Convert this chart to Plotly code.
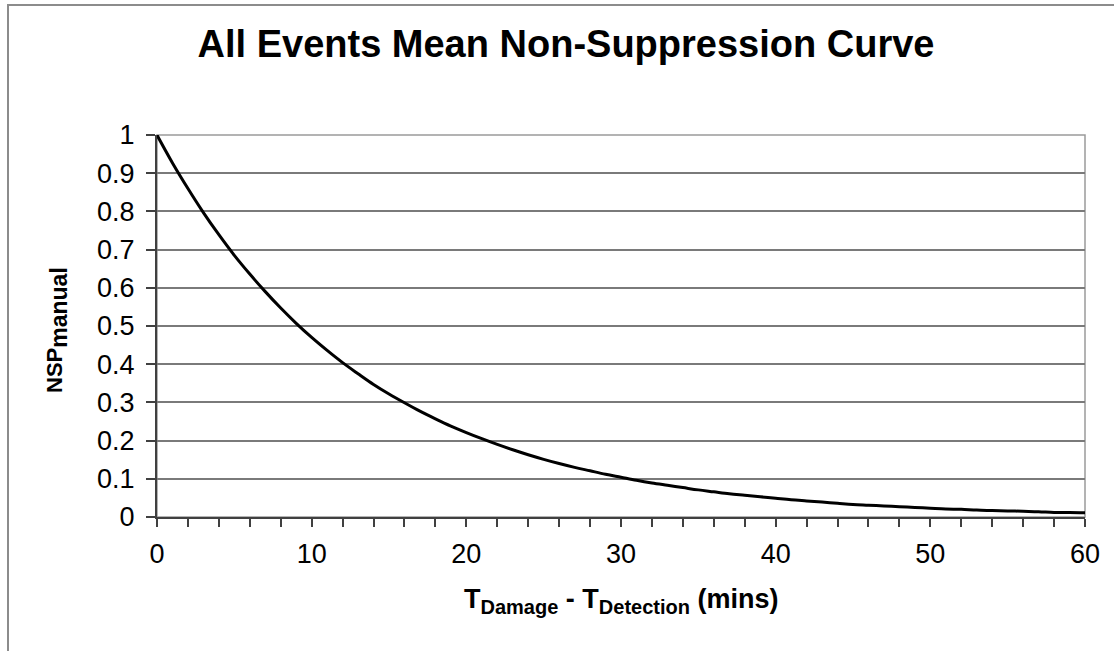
import plotly.graph_objects as go

# Data
minutes = list(range(0, 61))
nsp_manual = [
    1.000, 0.927, 0.860, 0.797, 0.739, 0.685, 0.636, 0.590, 0.547, 0.507,
    0.470, 0.436, 0.404, 0.375, 0.347, 0.322, 0.299, 0.277, 0.257, 0.238,
    0.221, 0.205, 0.190, 0.176, 0.163, 0.151, 0.140, 0.130, 0.121, 0.112,
    0.104, 0.096, 0.089, 0.083, 0.077, 0.071, 0.066, 0.061, 0.057, 0.053,
    0.049, 0.045, 0.042, 0.039, 0.036, 0.033, 0.031, 0.029, 0.027, 0.025,
    0.023, 0.021, 0.020, 0.018, 0.017, 0.016, 0.015, 0.014, 0.012, 0.012,
    0.011,
]
x_tickvals = list(range(0, 61, 2))
x_ticktext = [str(v) if v % 10 == 0 else "" for v in x_tickvals]
y_tickvals = [0, 0.1, 0.2, 0.3, 0.4, 0.5, 0.6, 0.7, 0.8, 0.9, 1]
y_ticktext = ["0", "0.1", "0.2", "0.3", "0.4", "0.5", "0.6", "0.7", "0.8", "0.9", "1"]

W, H = 1114, 651
L, R, T, B = 157, 1085, 135, 517
pw, ph = R - L, B - T

def px(xp):
    return (xp - L) / pw

def py(yp):
    return (B - yp) / ph

font = "Liberation Sans, Arial, sans-serif"

fig = go.Figure()
fig.add_trace(go.Scatter(
    x=minutes, y=nsp_manual, mode="lines",
    line=dict(color="black", width=3, shape="spline"),
    showlegend=False, hoverinfo="skip",
))

fig.update_layout(
    width=W, height=H,
    margin=dict(l=L, r=W - R, t=T, b=H - B, pad=0),
    paper_bgcolor="white", plot_bgcolor="white",
    font=dict(family=font, color="black"),
    title=dict(text="<b>All Events Mean Non-Suppression Curve</b>",
               font=dict(size=38, family=font, color="black"),
               x=566 / W, xref="container", xanchor="center",
               y=1 - 44 / H, yref="container", yanchor="middle"),
    xaxis=dict(range=[0, 60], tickvals=x_tickvals, ticktext=x_ticktext,
               ticks="outside", ticklen=8, tickcolor="#404040", tickwidth=1.5,
               showline=True, linecolor="#404040", linewidth=2,
               showgrid=False, zeroline=False, ticklabelstandoff=4,
               tickfont=dict(size=27, family=font, color="black")),
    yaxis=dict(range=[0, 1], tickvals=y_tickvals, ticktext=y_ticktext,
               ticks="outside", ticklen=9, tickcolor="#404040", tickwidth=1.5,
               showline=True, linecolor="#404040", linewidth=2,
               showgrid=True, gridcolor="#7a7a7a", gridwidth=1.6, zeroline=False,
               ticklabelstandoff=6,
               tickfont=dict(size=27, family=font, color="black")),
    shapes=[
        # plot area frame (top/right gray)
        dict(type="rect", xref="paper", yref="paper", x0=0, x1=1, y0=0, y1=1,
             line=dict(color="#9a9a9a", width=1.5), layer="below"),
        # outer chart border
        dict(type="rect", xref="paper", yref="paper",
             x0=px(8), x1=px(1130), y0=py(660), y1=py(5),
             line=dict(color="#8c8c8c", width=2), layer="below"),
    ],
    annotations=[
        dict(text='<b>NSP<sub><span style="font-size:23px">manual</span></sub></b>',
             xref="paper", yref="paper",
             x=px(57), y=py(330), xanchor="center", yanchor="middle",
             textangle=-90, showarrow=False,
             font=dict(size=22, family=font, color="black")),
        dict(text='<b>T<sub><span style="font-size:20px">Damage</span></sub> - '
                  'T<sub><span style="font-size:20px">Detection</span></sub> (mins)</b>',
             xref="paper", yref="paper",
             x=px(621), y=py(601), xanchor="center", yanchor="middle",
             showarrow=False,
             font=dict(size=27, family=font, color="black")),
    ],
)

fig.write_html("out.html", config={"displayModeBar": False},
               post_script="document.body.style.margin='0px';")
